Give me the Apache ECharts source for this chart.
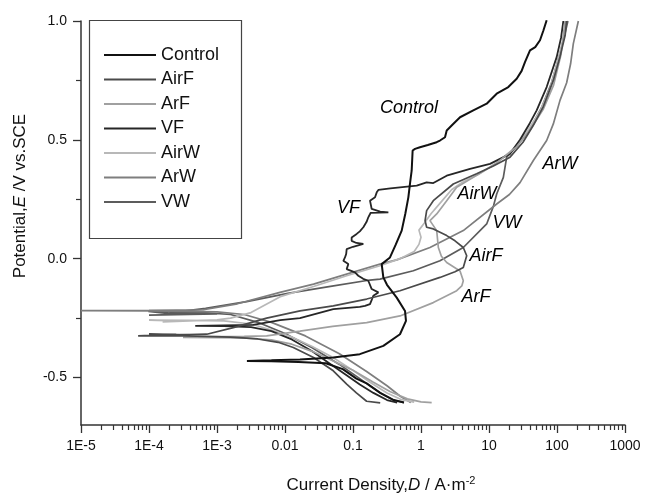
<!DOCTYPE html>
<html>
<head>
<meta charset="utf-8">
<title>Polarization curves</title>
<script src="https://cdn.jsdelivr.net/npm/echarts@6/dist/echarts.min.js"></script>
<style>
    html, body { margin: 0; padding: 0; background: #fff; }
    #chart { width: 645px; height: 495px; }
</style>
</head>
<body>
<div id="chart"></div>
<script>
// Configuration
const FONT = 'Liberation Sans, Arial, sans-serif';

// Tick labels (x is log10 of current density)
const xTickValues = [-5, -4, -3, -2, -1, 0, 1, 2, 3];
const xTickLabels = ['1E-5', '1E-4', '1E-3', '0.01', '0.1', '1', '10', '100', '1000'];
const yTickValues = [-0.5, 0, 0.5, 1.0];
const yMinorTicks = [-0.25, 0.25, 0.75];

const seriesNames = ['Control', 'AirF', 'ArF', 'VF', 'AirW', 'ArW', 'VW'];
const seriesColors = ['#111111', '#4a4a4a', '#a0a0a0', '#262626', '#b8b8b8', '#7e7e7e', '#5c5c5c'];

// Curves: [log10(D / A m^-2), E / V vs SCE], in scan order
const control = [
    [-0.25, -0.605], [-0.4, -0.595], [-0.6, -0.565], [-0.8, -0.525], [-0.95, -0.505], [-1.15, -0.465],
    [-1.4, -0.44], [-1.8, -0.435], [-2.2, -0.432], [-2.56, -0.431], [-2.2, -0.428], [-1.78, -0.424],
    [-1.29, -0.416], [-0.9, -0.402], [-0.554, -0.367], [-0.309, -0.318], [-0.221, -0.262], [-0.235, -0.220],
    [-0.357, -0.164], [-0.5, -0.11], [-0.554, -0.079], [-0.578, -0.023], [-0.456, 0.005], [-0.37, 0.06],
    [-0.284, 0.118], [-0.23, 0.19], [-0.186, 0.258], [-0.16, 0.32], [-0.137, 0.371], [-0.123, 0.455],
    [-0.088, 0.462], [-0.015, 0.469], [0.1, 0.478], [0.23, 0.490], [0.279, 0.497], [0.353, 0.511],
    [0.378, 0.539], [0.451, 0.560], [0.574, 0.595], [0.769, 0.624], [0.966, 0.652], [1.113, 0.694],
    [1.284, 0.722], [1.407, 0.757], [1.48, 0.79], [1.529, 0.827], [1.603, 0.876], [1.68, 0.89],
    [1.75, 0.919], [1.8, 0.96], [1.848, 1.003]
];

const airF = [
    [-0.6, -0.607], [-0.8, -0.6], [-0.95, -0.565], [-1.093, -0.528], [-1.29, -0.472], [-1.58, -0.416],
    [-1.878, -0.374], [-2.1, -0.352], [-2.4, -0.338], [-2.8, -0.33], [-3.3, -0.326], [-3.7, -0.324],
    [-4.16, -0.325], [-3.6, -0.319], [-4.0, -0.317], [-3.4, -0.321], [-3.69, -0.322], [-3.15, -0.318],
    [-2.76, -0.29], [-2.27, -0.25], [-1.779, -0.220], [-1.29, -0.199], [-0.799, -0.170], [-0.309, -0.135],
    [0.279, -0.079], [0.5, -0.055], [0.622, -0.037], [0.672, 0.012], [0.622, 0.047], [0.5, 0.075],
    [0.378, 0.097], [0.181, 0.125], [0.083, 0.132], [0.06, 0.16], [0.083, 0.202], [0.181, 0.244],
    [0.475, 0.314], [0.818, 0.357], [1.064, 0.39], [1.309, 0.427], [1.5, 0.49], [1.65, 0.56],
    [1.799, 0.64], [1.946, 0.75], [2.044, 0.85], [2.12, 0.94], [2.14, 1.0]
];

const arF = [
    [0.157, -0.606], [0.0, -0.603], [-0.2, -0.59], [-0.45, -0.56], [-0.7, -0.52], [-1.0, -0.47],
    [-1.3, -0.43], [-1.6, -0.39], [-1.9, -0.36], [-2.2, -0.342], [-2.6, -0.334], [-3.0, -0.332],
    [-3.5, -0.331], [-3.0, -0.328], [-2.6, -0.327], [-2.27, -0.325], [-1.779, -0.305], [-1.3, -0.285],
    [-0.799, -0.269], [-0.309, -0.241], [0.181, -0.185], [0.525, -0.135], [0.6, -0.115], [0.622, -0.093],
    [0.574, -0.052], [0.378, -0.016], [0.3, 0.01], [0.255, 0.047], [0.231, 0.118], [0.132, 0.160],
    [0.231, 0.188], [0.378, 0.244], [0.525, 0.30], [0.769, 0.342], [1.1, 0.4], [1.4, 0.469],
    [1.6, 0.54], [1.8, 0.63], [1.95, 0.73], [2.06, 0.86], [2.118, 1.0]
];

const vF = [
    [-0.35, -0.606], [-0.5, -0.595], [-0.7, -0.565], [-0.9, -0.53], [-1.1, -0.49], [-1.35, -0.44],
    [-1.6, -0.39], [-1.9, -0.34], [-2.2, -0.305], [-2.5, -0.288], [-2.9, -0.284], [-3.32, -0.283],
    [-2.9, -0.281], [-2.47, -0.279], [-2.07, -0.259], [-1.78, -0.25], [-1.29, -0.212], [-0.9, -0.203],
    [-0.824, -0.199], [-0.75, -0.191], [-0.72, -0.17], [-0.701, -0.156], [-0.627, -0.142], [-0.725, -0.128],
    [-0.775, -0.093], [-0.85, -0.085], [-0.922, -0.072], [-0.971, -0.058], [-1.093, -0.044], [-1.069, -0.023],
    [-1.142, -0.009], [-1.118, 0.005], [-1.1, 0.02], [-1.093, 0.040], [-1.0, 0.05], [-0.848, 0.062],
    [-0.95, 0.066], [-1.02, 0.075], [-1.02, 0.089], [-0.946, 0.104], [-0.9, 0.115], [-0.848, 0.132],
    [-0.8, 0.155], [-0.775, 0.174], [-0.74, 0.193], [-0.48, 0.195], [-0.6, 0.198], [-0.725, 0.209],
    [-0.75, 0.244], [-0.676, 0.258], [-0.651, 0.279], [-0.627, 0.289], [-0.45, 0.296], [-0.309, 0.30],
    [-0.063, 0.307], [0.083, 0.321], [0.181, 0.318], [0.378, 0.349], [0.721, 0.378], [1.015, 0.399],
    [1.309, 0.441], [1.456, 0.5], [1.6, 0.57], [1.701, 0.624], [1.848, 0.722], [1.995, 0.848],
    [2.06, 0.93], [2.093, 1.0]
];

const airW = [
    [-0.1, -0.604], [-0.3, -0.592], [-0.5, -0.565], [-0.75, -0.52], [-1.0, -0.47], [-1.3, -0.415],
    [-1.6, -0.37], [-1.9, -0.33], [-2.2, -0.3], [-2.5, -0.275], [-2.9, -0.262], [-3.4, -0.26],
    [-4.0, -0.259], [-3.5, -0.263], [-3.8, -0.266], [-3.0, -0.258], [-2.8, -0.25], [-2.5, -0.227],
    [-2.07, -0.16], [-1.58, -0.117], [-1.093, -0.072], [-0.603, -0.03], [-0.309, 0.0], [-0.1, 0.03],
    [-0.03, 0.06], [0.0, 0.09], [-0.03, 0.12], [0.05, 0.15], [0.15, 0.19], [0.3, 0.24],
    [0.45, 0.29], [0.6, 0.32], [0.85, 0.355], [1.1, 0.4], [1.35, 0.46], [1.55, 0.53],
    [1.75, 0.62], [1.9, 0.72], [2.02, 0.84], [2.1, 0.93], [2.13, 1.0]
];

const arW = [
    [-0.15, -0.605], [-0.3, -0.58], [-0.5, -0.535], [-0.8, -0.475], [-1.2, -0.4], [-1.7, -0.325],
    [-2.2, -0.268], [-2.6, -0.235], [-3.0, -0.224], [-4.0, -0.22], [-5.0, -0.219], [-4.0, -0.218],
    [-3.2, -0.215], [-2.7, -0.19], [-2.074, -0.142], [-1.58, -0.107], [-1.093, -0.065], [-0.603, -0.023],
    [-0.357, -0.005], [0.132, 0.047], [0.622, 0.118], [1.113, 0.230], [1.3, 0.27], [1.456, 0.32],
    [1.652, 0.413], [1.848, 0.497], [1.946, 0.567], [2.044, 0.666], [2.142, 0.74], [2.2, 0.82],
    [2.24, 0.905], [2.314, 1.0]
];

const vW = [
    [-0.25, -0.606], [-0.4, -0.596], [-0.6, -0.565], [-0.9, -0.505], [-1.2, -0.445], [-1.6, -0.375],
    [-2.0, -0.315], [-2.4, -0.268], [-2.8, -0.235], [-3.3, -0.225], [-4.01, -0.222], [-3.6, -0.235],
    [-4.0, -0.238], [-3.0, -0.232], [-3.7, -0.228], [-3.168, -0.209], [-2.564, -0.181], [-1.959, -0.146],
    [-1.354, -0.118], [-0.75, -0.09], [-0.603, -0.086], [-0.113, -0.051], [0.279, -0.009], [0.622, 0.047],
    [0.966, 0.146], [1.064, 0.22], [1.113, 0.272], [1.211, 0.342], [1.26, 0.427], [1.4, 0.47],
    [1.6, 0.545], [1.78, 0.64], [1.92, 0.74], [2.04, 0.86], [2.12, 0.95], [2.16, 1.0]
];

const curves = [control, airF, arF, vF, airW, arW, vW];
const lineWidths = [2, 1.7, 1.7, 1.8, 1.7, 1.7, 1.7];

// In-plot curve labels, placed in data coordinates
const curveLabels = [
    ['Control', -0.176, 0.632],
    ['VF', -1.066, 0.215],
    ['AirW', 0.824, 0.274],
    ['VW', 1.265, 0.151],
    ['ArW', 2.044, 0.40],
    ['AirF', 0.956, 0.012],
    ['ArF', 0.809, -0.161]
];

// Utility: log10 positions of the 2..9 minor ticks in each decade
function minorLogTicks() {
    const out = [];
    for (let dec = -5; dec < 3; dec++) {
        for (let k = 2; k <= 9; k++) out.push(dec + Math.log10(k));
    }
    return out;
}

function buildSeries() {
    const list = curves.map((pts, i) => ({
        name: seriesNames[i],
        type: 'line',
        data: pts,
        symbol: 'none',
        showSymbol: false,
        color: seriesColors[i],
        lineStyle: { color: seriesColors[i], width: lineWidths[i] },
        z: 10 - i
    }));
    // italic curve names inside the plot
    list.push({
        name: 'labels',
        type: 'scatter',
        silent: true,
        symbolSize: 0,
        itemStyle: { color: 'rgba(0,0,0,0)' },
        data: curveLabels.map(l => ({ name: l[0], value: [l[1], l[2]] })),
        label: {
            show: true,
            position: 'inside',
            formatter: '{b}',
            color: '#000',
            opacity: 1,
            textBorderWidth: 0,
            fontFamily: FONT,
            fontSize: 18,
            fontStyle: 'italic'
        },
        z: 20
    });
    return list;
}

const axisLine = { show: true, onZero: false, lineStyle: { color: '#333', width: 1.5 } };

const chart = echarts.init(document.getElementById('chart'), null, { renderer: 'canvas' });

chart.setOption({
    animation: false,
    backgroundColor: '#fff',
    grid: { left: 81, right: 20, top: 21, bottom: 70, containLabel: false },
    xAxis: [{
        type: 'value',
        min: -5,
        max: 3,
        interval: 1,
        axisLine: axisLine,
        splitLine: { show: false },
        axisTick: { show: true, inside: false, length: 8, lineStyle: { color: '#333', width: 1.3 } },
        axisLabel: {
            margin: 14,
            color: '#111',
            fontFamily: FONT,
            fontSize: 14,
            formatter: v => xTickLabels[xTickValues.indexOf(Math.round(v))] || ''
        }
    }, {
        type: 'value',
        min: -5,
        max: 3,
        position: 'bottom',
        axisLine: { show: false, onZero: false },
        splitLine: { show: false },
        axisLabel: { show: false },
        axisTick: { show: true, length: 5, customValues: minorLogTicks(), lineStyle: { color: '#333', width: 1.2 } }
    }],
    yAxis: [{
        type: 'value',
        min: -0.7,
        max: 1.0,
        axisLine: axisLine,
        splitLine: { show: false },
        axisTick: { show: true, length: 8, customValues: yTickValues, lineStyle: { color: '#333', width: 1.3 } },
        axisLabel: {
            customValues: yTickValues,
            margin: 14,
            color: '#111',
            fontFamily: FONT,
            fontSize: 14,
            formatter: v => v.toFixed(1)
        }
    }, {
        type: 'value',
        min: -0.7,
        max: 1.0,
        position: 'left',
        axisLine: { show: false, onZero: false },
        splitLine: { show: false },
        axisLabel: { show: false },
        axisTick: { show: true, length: 5, customValues: yMinorTicks, lineStyle: { color: '#333', width: 1.2 } }
    }],
    legend: {
        data: seriesNames,
        orient: 'vertical',
        left: 104,
        top: 46,
        padding: 0,
        icon: 'rect',
        itemWidth: 52,
        itemHeight: 2,
        itemGap: 6.5,
        textStyle: { color: '#111', fontFamily: FONT, fontSize: 18, lineHeight: 18 },
        selectedMode: false
    },
    graphic: [{
        type: 'rect',
        shape: { x: 89.5, y: 20.5, width: 152, height: 218 },
        style: { fill: 'none', stroke: '#444', lineWidth: 1.2 },
        z: 5
    }, {
        type: 'text',
        x: 20,
        y: 196,
        rotation: Math.PI / 2,
        style: {
            text: 'Potential,{i|E} /V vs.SCE',
            fill: '#111',
            fontFamily: FONT,
            fontSize: 17,
            align: 'center',
            verticalAlign: 'middle',
            rich: { i: { fontStyle: 'italic', fontFamily: FONT, fontSize: 17, fill: '#111' } }
        }
    }, {
        type: 'text',
        x: 381,
        y: 485,
        style: {
            text: 'Current Density,{i|D} / A\u00b7m{sup|-2}',
            fill: '#111',
            fontFamily: FONT,
            fontSize: 17,
            lineHeight: 20,
            align: 'center',
            verticalAlign: 'middle',
            rich: {
                i: { fontStyle: 'italic', fontFamily: FONT, fontSize: 17, lineHeight: 20, fill: '#111' },
                sup: { fontFamily: FONT, fontSize: 11, lineHeight: 11, verticalAlign: 'top', fill: '#111' }
            }
        }
    }],
    series: buildSeries()
});
</script>
</body>
</html>
